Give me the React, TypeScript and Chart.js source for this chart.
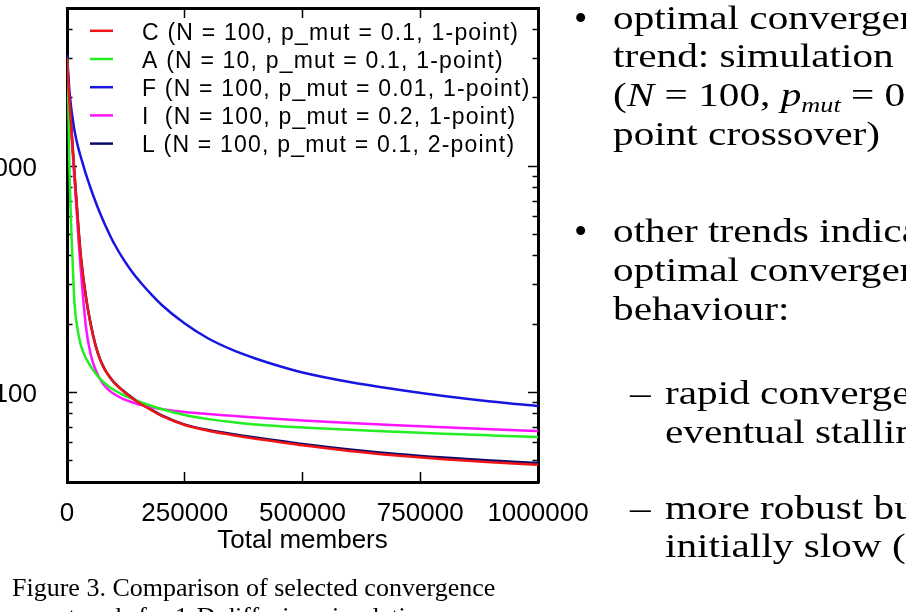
import React, { useEffect, useRef } from 'react';
import { Chart, registerables } from 'chart.js';

Chart.register(...registerables);

// ---- data ----
const members = [0, 2500, 5000, 7500, 10000, 12500, 15000, 17500, 20000, 25000, 30000, 40000, 50000, 60000, 70000, 80000, 90000, 100000, 120000, 140000, 160000, 180000, 200000, 250000, 300000, 350000, 400000, 450000, 500000, 600000, 700000, 800000, 900000, 1000000];

const seriesC = [3000, 2380, 1960, 1650, 1385, 1165, 980, 825, 700, 505, 384, 264, 200, 162, 139.5, 126, 117, 110, 100.6, 93.4, 87.6, 83, 78.6, 71.5, 67.4, 64.6, 62.2, 60.1, 58.1, 54.9, 52.4, 50.4, 48.9, 47.7];
const seriesA = [3000, 2062, 1010, 652, 470.6, 353.8, 266, 225.9, 204, 177, 159.8, 141.4, 130.3, 121.4, 114.7, 109.6, 105.2, 102.1, 97, 93.1, 89.7, 86.7, 84.1, 79.1, 75.9, 73.7, 71.8, 70.6, 69.7, 68.1, 66.7, 65.4, 64.3, 63.3];
const seriesF = [3100, 2600, 2170, 1920, 1734, 1600, 1473, 1378, 1303, 1178, 1085, 922, 799, 700, 619, 554, 500, 454, 386, 336, 299, 269, 244, 201, 172.5, 154, 140.7, 130.3, 122, 110.7, 102.6, 96, 90.8, 86.7];
const seriesI = [3000, 2353, 1920, 1598, 1330, 1107, 922, 775, 659, 452, 333, 196, 147.3, 126.4, 114.2, 106.3, 101.5, 98, 93.1, 89.9, 87.3, 85.6, 84.1, 81.6, 79.9, 78.5, 77.1, 75.9, 74.8, 72.9, 71.3, 69.8, 68.4, 67.2];
const seriesL = [3000, 2400, 1980, 1664, 1400, 1177, 990, 832, 707, 510, 388, 266, 202, 163, 140, 126.4, 117.1, 110.4, 101, 93.8, 88, 83.4, 79.1, 71.8, 67.9, 65.2, 62.9, 60.9, 58.9, 55.7, 53.2, 51.3, 49.8, 48.5];

const seriesLabels = [
  'C (N = 100, p_mut = 0.1, 1-point)',
  'A (N = 10, p_mut = 0.1, 1-point)',
  'F (N = 100, p_mut = 0.01, 1-point)',
  'I  (N = 100, p_mut = 0.2, 1-point)',
  'L (N = 100, p_mut = 0.1, 2-point)',
];
const seriesColors = ['#f01414', '#22ee22', '#1616e0', '#ff14ff', '#0a0a6e'];
const seriesValues = [seriesC, seriesA, seriesF, seriesI, seriesL];

const xTicks = [0, 250000, 500000, 750000, 1000000];
const yTicks = [40, 50, 60, 70, 80, 90, 100, 200, 300, 400, 500, 600, 700, 800, 900, 1000, 2000, 3000, 4000, 5000];
const yLabelled = [100, 1000];
const xTitle = 'Total members';

const SANS = '"Liberation Sans", Arial, Helvetica, sans-serif';
const SERIF = '"Liberation Serif", "Times New Roman", Times, serif';

const insideLegend = {
  id: 'insideLegend',
  afterDatasetsDraw(chart: any) {
    const { ctx, chartArea } = chart;
    ctx.save();
    ctx.font = '23px ' + SANS;
    (ctx as any).letterSpacing = '1.2px';
    ctx.textBaseline = 'middle';
    ctx.textAlign = 'left';
    ctx.fillStyle = '#000';
    chart.data.datasets.forEach((ds: any, i: number) => {
      const ty = chartArea.top + 25.3 + 28.2 * i;
      const ly = ty - 2.5;
      ctx.strokeStyle = ds.borderColor;
      ctx.lineWidth = 2.5;
      ctx.beginPath();
      ctx.moveTo(chartArea.left + 23, ly);
      ctx.lineTo(chartArea.left + 46, ly);
      ctx.stroke();
      ctx.fillText(ds.label, chartArea.left + 75, ty);
    });
    ctx.restore();
  },
};

const zeroPad = (scale: any) => {
  scale.paddingTop = 0;
  scale.paddingBottom = 0;
  scale.paddingLeft = 0;
  scale.paddingRight = 0;
};

function ChartCanvas() {
  const ref = useRef<HTMLCanvasElement | null>(null);
  useEffect(() => {
    if (!ref.current) return;
    const datasets = seriesValues.map((vals, i) => ({
      label: seriesLabels[i],
      data: members.map((m, j) => ({ x: m, y: vals[j] })),
      borderColor: seriesColors[i],
      backgroundColor: seriesColors[i],
      borderWidth: 2.5,
      pointRadius: 0,
      cubicInterpolationMode: 'monotone' as const,
      fill: false,
    }));
    const yGrid = (side: 'left' | 'right') => ({
      drawOnChartArea: false,
      drawTicks: true,
      tickLength: -10,
      tickWidth: 1.5,
      tickColor: '#000',
      color: '#000',
      tickBorderDash: (ctx: any) => {
        const v = ctx.tick ? ctx.tick.value : null;
        if (v !== null && yLabelled.includes(v)) return [];
        return side === 'left' ? [0, 4.5, 50, 0] : [7.5, 50];
      },
    });
    const xGrid = { drawOnChartArea: false, drawTicks: true, tickLength: -10, tickWidth: 1.5, tickColor: '#000', color: '#000' };
    const chart = new Chart(ref.current, {
      type: 'line',
      data: { datasets },
      options: {
        animation: false,
        responsive: false,
        maintainAspectRatio: false,
        devicePixelRatio: 1,
        layout: { padding: { left: 0, top: 8, right: 368, bottom: 56 } },
        plugins: { legend: { display: false }, tooltip: { enabled: false } },
        scales: {
          x: {
            type: 'linear',
            position: 'bottom',
            min: 0,
            max: 1000000,
            afterBuildTicks: (s: any) => { s.ticks = xTicks.map((v) => ({ value: v })); },
            afterFit: (s: any) => { s.height = 74; zeroPad(s); },
            ticks: {
              color: '#000',
              font: { family: SANS, size: 26 },
              padding: 26,
              maxRotation: 0,
              autoSkip: false,
              callback: (v: any) => String(v),
            },
            grid: xGrid,
            border: { display: true, color: '#000', width: 3 },
            title: { display: true, text: xTitle, color: '#000', font: { family: SANS, size: 26 }, padding: { top: 0, bottom: 0 } },
          },
          x2: {
            type: 'linear',
            position: 'top',
            min: 0,
            max: 1000000,
            afterBuildTicks: (s: any) => { s.ticks = xTicks.map((v) => ({ value: v })); },
            afterFit: (s: any) => { s.height = 0; zeroPad(s); },
            ticks: { display: false },
            grid: xGrid,
            border: { display: true, color: '#000', width: 3 },
          },
          y: {
            type: 'logarithmic',
            position: 'left',
            min: 40,
            max: 5000,
            afterBuildTicks: (s: any) => { s.ticks = yTicks.map((v) => ({ value: v, major: false })); },
            afterFit: (s: any) => { s.width = 67; zeroPad(s); },
            ticks: {
              color: '#000',
              font: { family: SANS, size: 26 },
              padding: 40,
              labelOffset: 2.5,
              autoSkip: false,
              callback: (v: any) => (yLabelled.includes(Number(v)) ? String(v) : ''),
            },
            grid: yGrid('left') as any,
            border: { display: true, color: '#000', width: 3 },
          },
          y2: {
            type: 'logarithmic',
            position: 'right',
            min: 40,
            max: 5000,
            afterBuildTicks: (s: any) => { s.ticks = yTicks.map((v) => ({ value: v, major: false })); },
            afterFit: (s: any) => { s.width = 0; zeroPad(s); },
            ticks: { display: false },
            grid: yGrid('right') as any,
            border: { display: true, color: '#000', width: 3 },
          },
        },
      } as any,
      plugins: [insideLegend],
    });
    return () => chart.destroy();
  }, []);
  return <canvas ref={ref} width={906} height={612} style={{ position: 'absolute', left: 0, top: 0, width: 906, height: 612 }} />;
}

const FS = 33;
const OFF = 30.7; // baseline offset inside a 39px line box
const STRETCH = 1.25;

const textLine = (baseline: number, left: number, content: React.ReactNode, key: string, stretch = true) => (
  <div
    key={key}
    style={{
      position: 'absolute',
      top: baseline - OFF,
      left,
      fontFamily: SERIF,
      fontSize: FS,
      lineHeight: '39px',
      whiteSpace: 'nowrap',
      color: '#000',
    }}
  >
    <span style={{ display: 'inline-block', transform: stretch ? `scaleX(${STRETCH})` : 'none', transformOrigin: '0 0' }}>{content}</span>
  </div>
);

export default function App() {
  const it: React.CSSProperties = { fontStyle: 'italic' };
  return (
    <div style={{ position: 'fixed', left: 0, top: 0, width: 906, height: 612, overflow: 'hidden', background: '#fff' }}>
      <ChartCanvas />
      {textLine(30, 574, <span style={{ fontSize: 38 }}>•</span>, 'b1', false)}
      {textLine(30, 613, 'optimal convergence', 'l1')}
      {textLine(68, 613, 'trend: simulation', 'l2')}
      {textLine(107, 613, (
        <span>(<span style={it}>N</span> = 100, <span style={it}>p</span><sub style={{ ...it, fontSize: 21, verticalAlign: '-0.3em', lineHeight: 0 }}>mut</sub> = 0.1, 1-</span>
      ), 'l3')}
      {textLine(146, 613, 'point crossover)', 'l4')}
      {textLine(243, 574, <span style={{ fontSize: 38 }}>•</span>, 'b2', false)}
      {textLine(243, 613, 'other trends indicate sub-', 'l5')}
      {textLine(282, 613, 'optimal convergence', 'l6')}
      {textLine(321, 613, 'behaviour:', 'l7')}
      {textLine(405, 630, '–', 'd1')}
      {textLine(405, 665, 'rapid convergence, but', 'l8')}
      {textLine(444, 665, 'eventual stalling (A, I)', 'l9')}
      {textLine(520, 630, '–', 'd2')}
      {textLine(520, 665, 'more robust but', 'l10')}
      {textLine(558, 665, 'initially slow (F)', 'l11')}
      <div style={{ position: 'absolute', top: 573, left: 12, fontFamily: SERIF, fontSize: 26, lineHeight: '30px', whiteSpace: 'nowrap', color: '#000' }}>
        Figure 3. Comparison of selected convergence
      </div>
      <div style={{ position: 'absolute', top: 602, left: 0, width: 510, textAlign: 'center', fontFamily: SERIF, fontSize: 26, lineHeight: '30px', whiteSpace: 'nowrap', color: '#000' }}>
        trends for 1-D diffusion simulations
      </div>
    </div>
  );
}
